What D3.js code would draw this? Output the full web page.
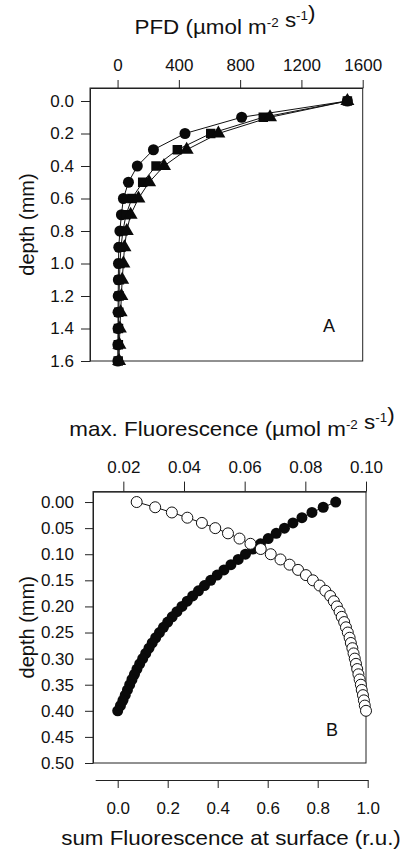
<!DOCTYPE html>
<html>
<head>
<meta charset="utf-8">
<script src="https://cdn.jsdelivr.net/npm/d3@7"></script>
<style>
  body { margin: 0; background: #fff; }
  svg text { font-family: "Liberation Sans", Arial, sans-serif; fill: #111; }
  .axis path, .axis line { stroke: #222; }
</style>
</head>
<body>
<div class="chart"></div>
<script>
// Panel A: light profile (PFD) with depth, three series
const depthA = [0.0, 0.1, 0.2, 0.3, 0.4, 0.5, 0.6, 0.7, 0.8, 0.9, 1.0, 1.1, 1.2, 1.3, 1.4, 1.5, 1.6];
const pfdCircle = [1500, 810, 440, 234, 129, 71, 38, 25, 15, 8, 6, 5, 4, 3, 3, 2, 2];
const pfdSquare = [1500, 951, 608, 390, 251, 164, 93, 55, 35, 22, 16, 12, 10, 8, 6, 5, 4];
const pfdTriangle = [1500, 995, 658, 451, 303, 206, 136, 85, 60, 45, 38, 30, 25, 20, 15, 12, 10];
const pfdTicks = [0, 400, 800, 1200, 1600];
const depthATicks = [0.0, 0.2, 0.4, 0.6, 0.8, 1.0, 1.2, 1.4, 1.6];

// Panel B: fluorescence with depth
const depthB = [0.00, 0.01, 0.02, 0.03, 0.04, 0.05, 0.06, 0.07, 0.08, 0.09,
  0.10, 0.11, 0.12, 0.13, 0.14, 0.15, 0.16, 0.17, 0.18, 0.19,
  0.20, 0.21, 0.22, 0.23, 0.24, 0.25, 0.26, 0.27, 0.28, 0.29,
  0.30, 0.31, 0.32, 0.33, 0.34, 0.35, 0.36, 0.37, 0.38, 0.39, 0.40];
// max. fluorescence (open circles, top axis)
const maxFluor = [0.0244, 0.0305, 0.0360, 0.0411, 0.0459, 0.0503, 0.0545, 0.0583, 0.0619, 0.0653,
  0.0686, 0.0718, 0.0748, 0.0776, 0.0802, 0.0825, 0.0847, 0.0866, 0.0882, 0.0894,
  0.0904, 0.0913, 0.0920, 0.0928, 0.0934, 0.0940, 0.0946, 0.0950, 0.0955, 0.0959,
  0.0963, 0.0967, 0.0971, 0.0975, 0.0979, 0.0983, 0.0986, 0.0990, 0.0993, 0.0996, 0.1000];
// sum fluorescence at surface (filled circles, bottom axis)
const sumFluor = [0.872, 0.822, 0.777, 0.737, 0.701, 0.667, 0.634, 0.602, 0.571, 0.541,
  0.511, 0.482, 0.453, 0.425, 0.398, 0.372, 0.347, 0.323, 0.300, 0.278,
  0.257, 0.237, 0.218, 0.200, 0.183, 0.167, 0.152, 0.138, 0.125, 0.112,
  0.100, 0.088, 0.077, 0.067, 0.057, 0.048, 0.039, 0.030, 0.021, 0.011, 0.000];
const maxTicks = [0.02, 0.04, 0.06, 0.08, 0.10];
const sumTicks = [0.0, 0.2, 0.4, 0.6, 0.8, 1.0];
const depthBTicks = [0.00, 0.05, 0.10, 0.15, 0.20, 0.25, 0.30, 0.35, 0.40, 0.45, 0.50];

const width = 408, height = 852;
const tickFont = "17px";

const svg = d3.select(".chart")
  .append("svg")
  .attr("width", width)
  .attr("height", height);

// helper: title with superscripts, slightly stretched like the original type
function unitTitle(x, y, parts) {
  const t = svg.append("text")
    .attr("transform", `translate(${x},${y}) scale(1.12,1)`)
    .attr("text-anchor", "middle")
    .attr("font-size", "20px");
  parts.forEach(p => {
    if (p.sup) {
      t.append("tspan").attr("dy", -7).attr("font-size", "12px").text(p.sup);
      t.append("tspan").attr("dy", 7).text("");
    } else {
      t.append("tspan").text(p.text);
    }
  });
  return t;
}

function styleAxis(g) {
  g.attr("class", "axis").attr("font-size", tickFont).attr("font-family", null);
  g.selectAll("text").attr("fill", "#111");
}

// ---------- Panel A ----------
const xA = d3.scaleLinear().domain([-180, 1600]).range([90, 362.7]);
const yA = d3.scaleLinear().domain([-0.08, 1.6]).range([88, 361]);

svg.append("rect")
  .attr("x", xA.range()[0]).attr("y", yA.range()[0])
  .attr("width", xA.range()[1] - xA.range()[0])
  .attr("height", yA.range()[1] - yA.range()[0])
  .attr("fill", "none").attr("stroke", "#222");

svg.append("g")
  .attr("transform", `translate(0,${yA.range()[0]})`)
  .call(d3.axisTop(xA).tickValues(pfdTicks).tickSize(8).tickPadding(9).tickSizeOuter(0).tickFormat(d3.format("d")))
  .call(styleAxis);

svg.append("g")
  .attr("transform", `translate(${xA.range()[0]},0)`)
  .call(d3.axisLeft(yA).tickValues(depthATicks).tickSize(9).tickPadding(7).tickSizeOuter(0).tickFormat(d3.format(".1f")))
  .call(styleAxis);

const seriesA = [
  { values: pfdCircle, symbol: d3.symbolCircle, size: 95 },
  { values: pfdSquare, symbol: d3.symbolSquare, size: 90 },
  { values: pfdTriangle, symbol: d3.symbolTriangle, size: 85 },
];

seriesA.forEach(s => {
  const line = d3.line().x((d, i) => xA(d)).y((d, i) => yA(depthA[i]));
  svg.append("path")
    .attr("d", line(s.values))
    .attr("fill", "none").attr("stroke", "#111").attr("stroke-width", 1);
});
seriesA.forEach(s => {
  svg.append("g").selectAll("path")
    .data(s.values)
    .join("path")
    .attr("transform", (d, i) => `translate(${xA(d)},${yA(depthA[i])})`)
    .attr("d", d3.symbol().type(s.symbol).size(s.size))
    .attr("fill", "#0a0a0a");
});

unitTitle(225, 34, [{ text: "PFD (µmol m" }, { sup: "-2" }, { text: " s" }, { sup: "-1" }, { text: ")" }]);

svg.append("text")
  .attr("transform", `translate(34,${(yA.range()[0] + yA.range()[1]) / 2}) rotate(-90)`)
  .attr("text-anchor", "middle").attr("font-size", "20px")
  .text("depth (mm)");

svg.append("text")
  .attr("x", 329).attr("y", 332)
  .attr("text-anchor", "middle").attr("font-size", "18px")
  .text("A");

// ---------- Panel B ----------
const xBtop = d3.scaleLinear().domain([0.01, 0.10]).range([93, 366]);
const xBbot = d3.scaleLinear().domain([-0.09, 1.0]).range([95.2, 367.7]);
const yB = d3.scaleLinear().domain([-0.02, 0.5]).range([491.6, 763]);

svg.append("rect")
  .attr("x", xBtop.range()[0]).attr("y", yB.range()[0])
  .attr("width", xBtop.range()[1] - xBtop.range()[0])
  .attr("height", yB.range()[1] - yB.range()[0])
  .attr("fill", "none").attr("stroke", "#222");

svg.append("g")
  .attr("transform", `translate(0,${yB.range()[0]})`)
  .call(d3.axisTop(xBtop).tickValues(maxTicks).tickSize(10).tickPadding(9).tickSizeOuter(0).tickFormat(d3.format(".2f")))
  .call(styleAxis);

svg.append("g")
  .attr("transform", `translate(${xBtop.range()[0]},0)`)
  .call(d3.axisLeft(yB).tickValues(depthBTicks).tickSize(8).tickPadding(11).tickSizeOuter(0).tickFormat(d3.format(".2f")))
  .call(styleAxis);

svg.append("g")
  .attr("transform", "translate(0,780)")
  .call(d3.axisBottom(xBbot).tickValues(sumTicks).tickSize(8).tickPadding(14).tickSizeOuter(0).tickFormat(d3.format(".1f")))
  .call(styleAxis);

// filled: sum fluorescence
const sumLine = d3.line().x(d => xBbot(d)).y((d, i) => yB(depthB[i]));
svg.append("path").attr("d", sumLine(sumFluor)).attr("fill", "none").attr("stroke", "#111");
svg.append("g").selectAll("circle")
  .data(sumFluor)
  .join("circle")
  .attr("cx", d => xBbot(d))
  .attr("cy", (d, i) => yB(depthB[i]))
  .attr("r", 5.5)
  .attr("fill", "#0a0a0a");

// open: max. fluorescence
const maxLine = d3.line().x(d => xBtop(d)).y((d, i) => yB(depthB[i]));
svg.append("path").attr("d", maxLine(maxFluor)).attr("fill", "none").attr("stroke", "#111");
svg.append("g").selectAll("circle")
  .data(maxFluor)
  .join("circle")
  .attr("cx", d => xBtop(d))
  .attr("cy", (d, i) => yB(depthB[i]))
  .attr("r", 5.5)
  .attr("fill", "#fff")
  .attr("stroke", "#111")
  .attr("stroke-width", 1);

unitTitle(232, 436, [{ text: "max. Fluorescence (µmol m" }, { sup: "-2" }, { text: " s" }, { sup: "-1" }, { text: ")" }]);
unitTitle(231, 845, [{ text: "sum Fluorescence at surface (r.u.)" }]);

svg.append("text")
  .attr("transform", `translate(34,${(yB.range()[0] + yB.range()[1]) / 2}) rotate(-90)`)
  .attr("text-anchor", "middle").attr("font-size", "20px")
  .text("depth (mm)");

svg.append("text")
  .attr("x", 332).attr("y", 736)
  .attr("text-anchor", "middle").attr("font-size", "18px")
  .text("B");
</script>
</body>
</html>
